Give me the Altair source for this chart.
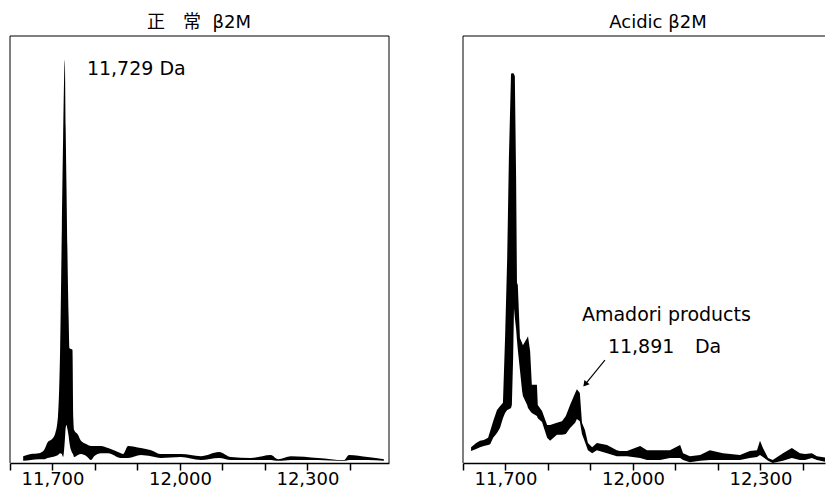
import altair as alt
import pandas as pd

# ---------------- data ----------------
# Left panel: 正常 β2M  (mass in Da, upper / lower edge of the trace, relative intensity)
normal_mass = [11631, 11649, 11668, 11680, 11689, 11699, 11706, 11713, 11718, 11722,
               11725, 11729, 11731, 11733, 11735, 11738, 11740, 11747, 11749, 11751,
               11760, 11767, 11780, 11791, 11798, 11814, 11831, 11861, 11866, 11878,
               11908, 11932, 11955, 12002, 12049, 12092, 12120, 12167, 12214, 12231,
               12261, 12325, 12386, 12398, 12442, 12480]
normal_upper = [1.6, 2.1, 2.3, 3.0, 4.9, 5.6, 6.8, 11.0, 26.9, 55.0,
                76.1, 94.4, 78.5, 64.4, 50.4, 34.0, 26.9, 26.5, 10.5, 7.7,
                6.6, 5.2, 4.4, 4.0, 4.0, 4.0, 3.5, 2.3, 2.1, 4.0,
                3.5, 3.0, 2.1, 2.1, 1.6, 2.6, 1.4, 1.2, 1.9, 0.9,
                1.6, 1.2, 0.7, 1.9, 1.4, 0.9]
normal_lower = [0.5, 0.7, 0.9, 0.9, 1.2, 1.4, 1.6, 1.9, 2.3, 2.1,
                1.4, 5.2, 8.2, 8.9, 8.0, 6.3, 4.7, 2.3, 1.9, 1.4,
                1.9, 2.1, 1.6, 0.7, 1.6, 2.3, 2.3, 1.2, 1.2, 1.2,
                1.9, 1.6, 1.2, 1.4, 0.7, 1.2, 0.7, 0.7, 0.7, 0.5,
                0.7, 0.7, 0.5, 0.7, 0.7, 0.5]

# Right panel: Acidic β2M
acidic_mass = [11619, 11631, 11640, 11649, 11659, 11664, 11671, 11680, 11687, 11694,
               11699, 11704, 11708, 11713, 11715, 11718, 11720, 11722, 11725, 11727,
               11729, 11734, 11739, 11741, 11751, 11753, 11758, 11762, 11774, 11776,
               11786, 11798, 11805, 11821, 11833, 11842, 11852, 11864, 11868, 11875,
               11880, 11887, 11894, 11904, 11915, 11939, 11962, 11969, 11986, 12017,
               12033, 12064, 12087, 12111, 12118, 12134, 12158, 12181, 12212, 12252,
               12275, 12292, 12299, 12306, 12318, 12329, 12353, 12374, 12393, 12405,
               12421, 12433, 12457, 12473]
acidic_upper = [3.7, 4.7, 5.2, 5.4, 5.9, 7.5, 9.8, 12.4, 13.3, 14.1,
                29.3, 48.0, 71.4, 91.1, 91.3, 91.3, 91.1, 90.6, 66.7, 42.2,
                41.7, 29.3, 28.1, 27.6, 29.3, 29.7, 26.2, 18.3, 18.3, 13.6,
                12.2, 8.9, 8.9, 9.4, 9.8, 11.0, 13.6, 16.4, 17.3, 16.4,
                9.4, 7.7, 4.7, 3.7, 4.7, 4.2, 3.0, 2.8, 2.8, 4.0,
                3.0, 3.0, 3.0, 4.2, 2.3, 1.6, 1.9, 3.0, 2.3, 1.9,
                2.8, 3.0, 5.2, 3.5, 1.2, 0.7, 2.3, 3.5, 2.3, 2.1,
                2.3, 1.6, 1.2, 0.5]
acidic_lower = [2.8, 3.3, 3.7, 4.0, 4.2, 4.4, 5.9, 7.0, 8.2, 10.5,
                11.7, 12.4, 12.6, 12.9, 13.6, 24.6, 36.3, 34.0, 31.4, 28.8,
                26.5, 21.8, 16.9, 15.7, 13.6, 12.9, 12.2, 11.7, 11.0, 10.5,
                9.6, 5.9, 5.2, 6.6, 6.6, 6.8, 8.2, 9.4, 10.3, 9.8,
                6.8, 4.9, 3.0, 2.3, 3.0, 2.3, 1.6, 1.6, 1.6, 1.2,
                0.7, 0.7, 1.2, 1.2, 0.7, 0.2, 0.5, 0.7, 0.7, 0.7,
                1.2, 1.4, 1.9, 1.4, 0.5, 0.0, 0.5, 1.2, 0.7, 0.7,
                1.2, 0.7, 0.2, 0.0]

tick_values = [11600, 11700, 11800, 11900, 12000, 12100, 12200, 12300, 12400]
labelled_ticks = [11700, 12000, 12300]

left_title = ["正\u3000常\u00a0\u00a0β2M"]
right_title = ["Acidic\u00a0β2M"]

# annotations (mass, intensity, text)
left_notes = {"mass": [11781], "v": [90.9], "label": ["11,729 Da"]}
right_notes = {"mass": [11880, 11941, 12146], "v": [33.3, 25.8, 25.8],
               "label": ["Amadori products", "11,891", "Da"]}
arrow_start = {"mass": [11934], "v": [24.1]}
arrow_tip = {"mass": [11889], "v": [18.6]}

# ---------------- chart ----------------
FONT = "DejaVu Sans, sans-serif"
CJK = "DejaVu Sans, 'Noto Sans CJK JP', sans-serif"
H = 427
WL, WR = 379, 362
XMAX_L, XMAX_R = 12492, 12452

label_expr = "indexof(" + str(labelled_ticks) + ", datum.value) >= 0 ? datum.label : ''"


def xenc(xmax, field="mass"):
    return alt.X(
        field + ":Q",
        scale=alt.Scale(domain=[11600, xmax], nice=False, zero=False),
        axis=alt.Axis(values=tick_values, format=",d", labelExpr=label_expr,
                      title=None, grid=False, tickSize=7, tickWidth=1.5,
                      tickColor="black", domainColor="black", domainWidth=1.5,
                      labelFont=FONT, labelFontSize=18, labelColor="black",
                      labelPadding=0, labelOverlap=False, labelFlush=False),
    )


yscale = alt.Scale(domain=[0, 100], nice=False, zero=True)


def yenc(field):
    return alt.Y(field + ":Q", scale=yscale, axis=None)


def frame(width, right_edge):
    base = alt.Chart(pd.DataFrame({"k": [0]}))
    layers = [
        base.mark_rule(color="black", strokeWidth=1).encode(
            x=alt.value(0), y=alt.value(0), y2=alt.value(H)),
        base.mark_rule(color="black", strokeWidth=1).encode(
            x=alt.value(0), x2=alt.value(width), y=alt.value(0)),
    ]
    if right_edge:
        layers.append(base.mark_rule(color="black", strokeWidth=1).encode(
            x=alt.value(width), y=alt.value(0), y2=alt.value(H)))
    return layers


def heading(text, xpos, font):
    return alt.Chart(pd.DataFrame({"t": text})).mark_text(
        align="center", baseline="alphabetic", font=font, fontSize=18, color="black"
    ).encode(x=alt.value(xpos), y=alt.value(-8), text="t:N")


def trace(mass, up, lo, xmax, interp):
    df = pd.DataFrame({"mass": mass, "up": up, "lo": lo})
    return alt.Chart(df).mark_area(color="black", interpolate=interp, clip=True).encode(
        x=xenc(xmax), y=yenc("up"), y2="lo:Q")


def notes(d, xmax):
    return alt.Chart(pd.DataFrame(d)).mark_text(
        align="left", baseline="alphabetic", font=FONT, fontSize=19, color="black"
    ).encode(x=xenc(xmax), y=yenc("v"), text="label:N")


left = alt.layer(
    trace(normal_mass, normal_upper, normal_lower, XMAX_L, "monotone"),
    notes(left_notes, XMAX_L),
    heading(left_title, 189, CJK),
    *frame(WL, True),
).properties(width=WL, height=H)

arrow_df = pd.DataFrame({"mass": arrow_start["mass"], "v": arrow_start["v"],
                         "mass2": arrow_tip["mass"], "v2": arrow_tip["v"]})
arrow_line = alt.Chart(arrow_df).mark_rule(color="black", strokeWidth=1.2).encode(
    x=xenc(XMAX_R), y=yenc("v"), x2="mass2:Q", y2="v2:Q")
arrow_head = alt.Chart(pd.DataFrame(arrow_tip)).mark_point(
    shape="triangle", filled=True, color="black", size=45, angle=219, opacity=1
).encode(x=xenc(XMAX_R), y=yenc("v"))

right = alt.layer(
    trace(acidic_mass, acidic_upper, acidic_lower, XMAX_R, "linear"),
    notes(right_notes, XMAX_R),
    arrow_line,
    arrow_head,
    heading(right_title, 195, FONT),
    *frame(WR, False),
).properties(width=WR, height=H)

chart = alt.hconcat(left, right, spacing=72).properties(
    padding={"left": 1, "top": 6, "right": 0, "bottom": 0},
    background="white",
).configure_view(stroke=None)

chart.save("out.html", embed_options={"renderer": "svg", "actions": False})
